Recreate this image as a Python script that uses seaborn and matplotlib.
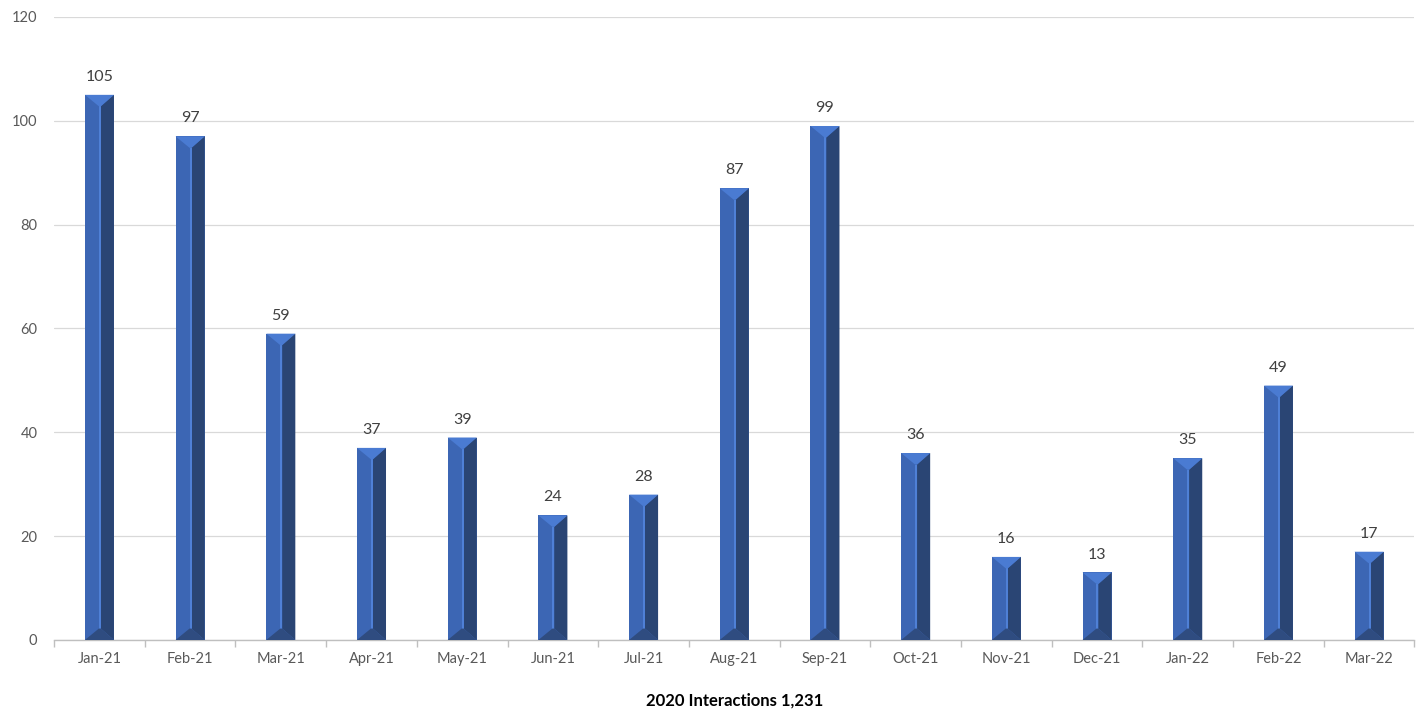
import matplotlib
matplotlib.use("Agg")
import matplotlib.pyplot as plt
import seaborn as sns
import pandas as pd
from matplotlib.patches import Polygon
from matplotlib.ticker import MultipleLocator, FixedLocator

months = ["Jan-21", "Feb-21", "Mar-21", "Apr-21", "May-21", "Jun-21", "Jul-21",
          "Aug-21", "Sep-21", "Oct-21", "Nov-21", "Dec-21", "Jan-22", "Feb-22", "Mar-22"]
interactions = [105, 97, 59, 37, 39, 24, 28, 87, 99, 36, 16, 13, 35, 49, 17]
x_title = "2020 Interactions 1,231"

df = pd.DataFrame({"month": months, "value": interactions})

sns.set_theme(style="white")
plt.rcParams["font.family"] = ["Lato", "DejaVu Sans"]

fig = plt.figure(figsize=(14.23, 7.13), dpi=100)
ax = fig.add_axes([0.038, 0.1024, 0.956, 0.8738])

sns.barplot(data=df, x="month", y="value", color="#3C66B4", width=0.32,
            saturation=1, ax=ax, zorder=3, edgecolor="none")

ax.set_ylim(0, 120)
ax.set_xlim(-0.5, len(months) - 0.5)
ax.yaxis.set_major_locator(MultipleLocator(20))
ax.grid(axis="y", color="#D9D9D9", linewidth=0.9, zorder=0)
ax.grid(axis="x", visible=False)
for s in ["top", "right", "left"]:
    ax.spines[s].set_visible(False)
ax.spines["bottom"].set_color("#BFBFBF")
ax.spines["bottom"].set_linewidth(1.0)

# bevel decoration derived from bar geometry
depth = 2.2
for p in ax.patches:
    x0 = p.get_x()
    w = p.get_width()
    h = p.get_height()
    x1 = x0 + w
    ridge = x0 + 0.55 * w
    ax.add_patch(Polygon([(ridge, depth), (x1, 0), (x1, h), (ridge, h - depth)],
                         closed=True, facecolor="#2A4574", edgecolor="none", zorder=4))
    ax.add_patch(Polygon([(ridge - 0.07 * w, depth), (ridge, depth), (ridge, h - depth),
                          (ridge - 0.07 * w, h - depth)],
                         closed=True, facecolor="#4F80D6", edgecolor="none", zorder=4))
    ax.add_patch(Polygon([(x0, h), (x1, h), (ridge, h - depth), (ridge - 0.07 * w, h - depth)],
                         closed=True, facecolor="#4A7BD2", edgecolor="none", zorder=5))
    ax.add_patch(Polygon([(x0, 0), (x1, 0), (ridge, depth), (ridge - 0.07 * w, depth)],
                         closed=True, facecolor="#2F4C80", edgecolor="none", zorder=5))
    ax.text(x0 + w / 2, h + 2.1, f"{h:.0f}", ha="center", va="bottom",
            fontsize=11.5, color="#404040", zorder=6)

ax.tick_params(axis="y", length=0, labelsize=10.5, labelcolor="#595959", pad=12)
ax.tick_params(axis="x", which="major", length=0, labelsize=10.5, labelcolor="#595959", pad=9)
ax.xaxis.set_minor_locator(FixedLocator([i - 0.5 for i in range(len(months) + 1)]))
ax.tick_params(axis="x", which="minor", length=5, color="#BFBFBF", width=1, bottom=True)
ax.set_ylabel("")
ax.set_xlabel(x_title, fontsize=12, fontweight="bold", color="black", labelpad=19)

fig.savefig("out.png", dpi=100)
